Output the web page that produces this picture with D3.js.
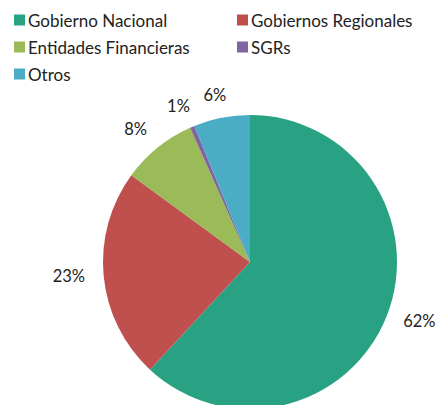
<!DOCTYPE html>
<html lang="es">
<head>
    <meta charset="UTF-8">
    <title>Pie</title>
    <script src="https://cdn.jsdelivr.net/npm/d3@7"></script>
    <style>
        body { margin: 0; background: #fff; }
        text { font-family: Lato, "Open Sans", sans-serif; fill: #222; }
    </style>
</head>
<body>
<script>
  // datos
  var categories = ["Gobierno Nacional", "Gobiernos Regionales", "Entidades Financieras", "SGRs", "Otros"];
  var values = [62.1, 23.2, 8.3, 0.5, 6.2];
  var pctLabels = ["62%", "23%", "8%", "1%", "6%"];
  var colors = ["#28a283", "#c0504d", "#9bbb59", "#8064a2", "#4bacc6"];

  drawChart();

  function drawChart() {
    var width = 436, height = 405;
    var cx = 250, cy = 262, radius = 147;

    var svg = d3.select("body").append("svg")
      .attr("width", width)
      .attr("height", height);

    var data = categories.map(function (c, i) {
      return {name: c, value: values[i], label: pctLabels[i], color: colors[i]};
    });

    var pie = d3.pie().sort(null).value(function (d) { return d.value; });
    var arc = d3.arc().innerRadius(0).outerRadius(radius);
    var labelArc = d3.arc().innerRadius(168).outerRadius(168);

    var g = svg.append("g").attr("transform", "translate(" + cx + "," + cy + ")");
    var arcs = pie(data);

    g.selectAll("path.slice")
      .data(arcs)
      .enter().append("path")
      .attr("class", "slice")
      .attr("d", arc)
      .attr("fill", function (d) { return d.data.color; });

    g.selectAll("text.pct")
      .data(arcs)
      .enter().append("text")
      .attr("class", "pct")
      .attr("x", function (d) {
        var a = (d.startAngle + d.endAngle) / 2;
        return labelArc.centroid(d)[0] + Math.sin(a) * 14;
      })
      .attr("y", function (d) {
        return labelArc.centroid(d)[1] - 2;
      })
      .attr("text-anchor", "middle")
      .attr("dominant-baseline", "central")
      .style("font-size", "16.5px")
      .text(function (d) { return d.data.label; });

    // leyenda
    var legendCols = [14, 237];
    var legendRows = [20, 47, 74];
    var legend = svg.selectAll("g.legend")
      .data(data)
      .enter().append("g")
      .attr("class", "legend")
      .attr("transform", function (d, i) {
        return "translate(" + legendCols[i % 2] + "," + legendRows[Math.floor(i / 2)] + ")";
      });

    legend.append("rect")
      .attr("x", 0).attr("y", -5.5)
      .attr("width", 11).attr("height", 11)
      .attr("fill", function (d) { return d.color; });

    legend.append("text")
      .attr("x", 14)
      .attr("y", 0)
      .attr("dominant-baseline", "central")
      .style("font-size", "17px")
      .text(function (d) { return d.name; });
  }
</script>
</body>
</html>
